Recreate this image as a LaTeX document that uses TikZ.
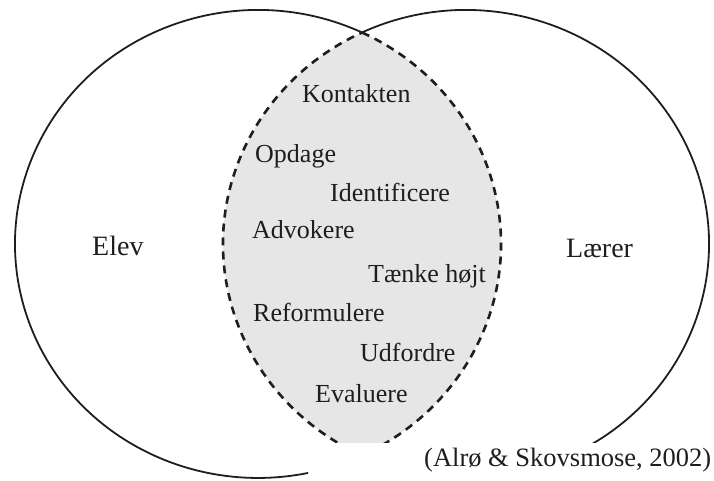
\documentclass[tikz,border=0pt]{standalone}
\usepackage{fontspec}
\setmainfont{Liberation Serif}
\definecolor{lensgray}{RGB}{230,230,230}
\definecolor{ink}{RGB}{30,30,30}
\tikzset{
  word/.style={anchor=base west, inner sep=0pt, text=ink, font=\fontsize{26}{30}\selectfont},
  bigword/.style={anchor=base west, inner sep=0pt, text=ink, font=\fontsize{28}{32}\selectfont},
  solidarc/.style={draw=ink, line width=1.8pt},
  dasharc/.style={draw=ink, line width=2.6pt, dash pattern=on 8pt off 6pt},
  ell/.style={x radius=243pt, y radius=234pt}
}
\begin{document}
\begin{tikzpicture}[x=1pt,y=1pt]
\useasboundingbox (0,0) rectangle (714,481);
\coordinate (cl) at (258,237);
\coordinate (cr) at (466,237);
\coordinate (T) at (362,448.5);
\coordinate (B) at (362,25.5);
\begin{scope}
  \clip (0,0) -- (0,481) -- (714,481) -- (714,38) -- (308,38) -- (308,0) -- cycle;
  % lens fill
  \fill[lensgray] (T) arc[start angle=64.66, end angle=-64.66, ell]
                      arc[start angle=244.66, end angle=115.34, ell] -- cycle;
  % dashed lens border
  \draw[dasharc] (T) arc[start angle=64.66, end angle=-64.66, ell];
  \draw[dasharc] (B) arc[start angle=244.66, end angle=115.34, ell];
  % solid outer arcs
  \draw[solidarc] (T) arc[start angle=64.66, end angle=295.34, ell];
  \draw[solidarc] (T) arc[start angle=115.34, end angle=-115.34, ell];
\end{scope}
\node[word] (k) at (302,378) {Kontakten};
\node[word] (o) at (255,318) {Opdage};
\node[word] (i) at (330,279) {Identificere};
\node[word] (a) at (252,242) {Advokere};
\node[word] (t) at (368,198) {Tænke højt};
\node[word] (r) at (253,159) {Reformulere};
\node[word] (u) at (360,119) {Udfordre};
\node[word] (e) at (315,78) {Evaluere};
\node[bigword] (elev) at (92,225) {Elev};
\node[bigword] (laerer) at (566,223) {Lærer};
\node[word, font=\fontsize{26.5}{30}\selectfont] (cite) at (424,14) {(Alrø \& Skovsmose, 2002)};
\end{tikzpicture}
\end{document}
